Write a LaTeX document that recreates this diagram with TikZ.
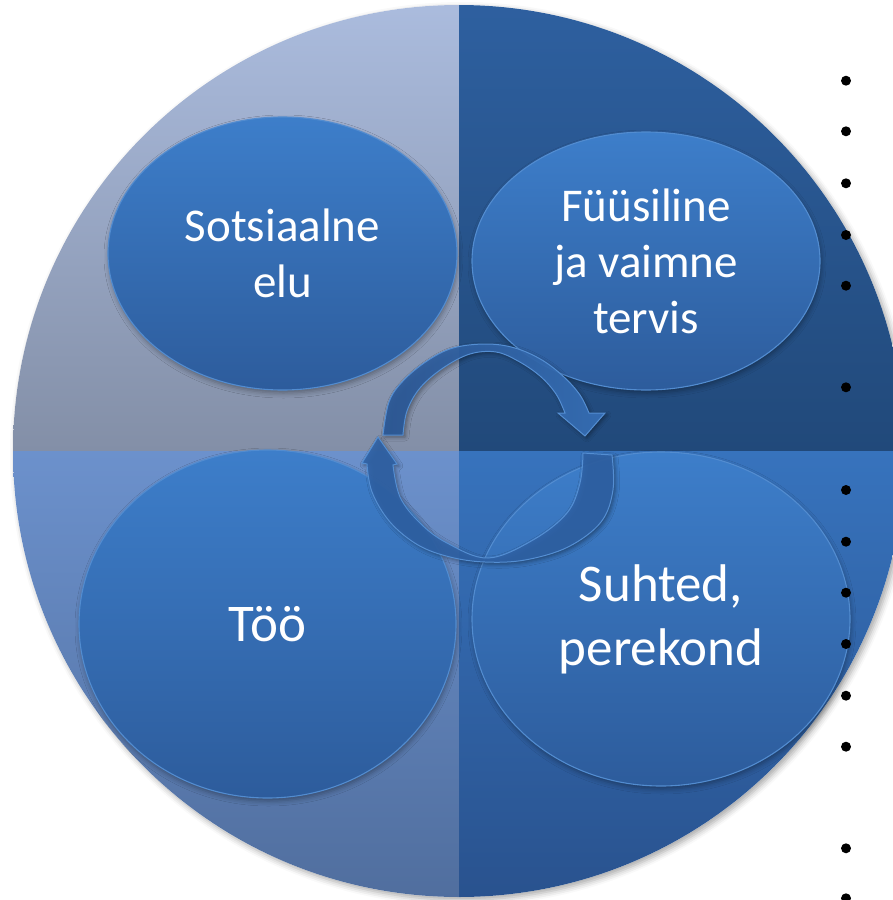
\documentclass[tikz,border=0pt]{standalone}
\usepackage{fontspec}
\setmainfont{Carlito}
\usetikzlibrary{shapes.geometric,shadows.blur}
\definecolor{tlTop}{RGB}{171,188,222}
\definecolor{tlBot}{RGB}{131,143,167}
\definecolor{trTop}{RGB}{46,96,160}
\definecolor{trBot}{RGB}{33,73,122}
\definecolor{blTop}{RGB}{108,145,204}
\definecolor{blBot}{RGB}{80,110,158}
\definecolor{brTop}{RGB}{55,115,189}
\definecolor{brBot}{RGB}{41,82,142}
\definecolor{bubTop}{RGB}{61,126,202}
\definecolor{bubBot}{RGB}{45,92,156}
\definecolor{bubLine}{RGB}{82,140,208}
\definecolor{arrFill}{RGB}{47,98,166}
\definecolor{arrFillL}{RGB}{43,88,150}
\definecolor{arrFillR}{RGB}{55,112,184}
\definecolor{arrLine}{RGB}{84,142,210}
\begin{document}
\begin{tikzpicture}[x=1pt,y=-1pt,
  bubble/.style={ellipse, inner sep=0pt, draw=bubLine, line width=1.1pt,
    top color=bubTop, bottom color=bubBot, text=white, align=center,
    blur shadow={shadow xshift=1pt, shadow yshift=-3pt, shadow opacity=35, shadow blur radius=5pt}},
  smallfont/.style={font=\fontsize{47}{56}\selectfont},
  bigfont/.style={font=\fontsize{53}{64}\selectfont},
  cyclearrow/.style={draw=arrLine, line width=1pt, line join=miter,
    blur shadow={shadow xshift=2pt, shadow yshift=-2pt, shadow opacity=40, shadow blur radius=4pt}},
  bulletdot/.style={circle, fill=black, inner sep=0pt, minimum size=10pt}
]
\useasboundingbox (0,0) rectangle (893,900);
% outer circle with shadow
\fill[white, blur shadow={shadow xshift=3pt, shadow yshift=-3pt, shadow opacity=35, shadow blur radius=6pt}] (459,451) circle[radius=446];
\begin{scope}
  \clip (459,451) circle[radius=446];
  \shade[top color=tlTop, bottom color=tlBot] (0,0) rectangle (459,451);
  \shade[top color=trTop, bottom color=trBot] (459,0) rectangle (910,451);
  \shade[top color=blTop, bottom color=blBot] (0,451) rectangle (459,900);
  \shade[top color=brTop, bottom color=brBot] (459,451) rectangle (910,900);
\end{scope}
% ellipses
\node[bubble, smallfont, minimum width=349pt, minimum height=273pt] (soc) at (282.5,253.5) {Sotsiaalne\\elu};
\node[bubble, smallfont, minimum width=348pt, minimum height=258pt] (fys) at (646,261) {Füüsiline\\ja vaimne\\tervis};
\node[bubble, bigfont, minimum width=377pt, minimum height=348pt] (too) at (267.5,624) {Töö};
\node[bubble, bigfont, minimum width=378pt, minimum height=334pt] (suh) at (661,619) {Suhted,\\perekond};
% circular arrows
\path[cyclearrow, left color=arrFillL, right color=arrFillR, fill opacity=0.93]
  plot[smooth, tension=0.6] coordinates {(383,435) (389,402) (403,381) (427,361) (453,348) (486,344) (515,348) (542,360) (564,377) (580,395) (589,413)}
  -- (605,413) -- (585,436) -- (558,413) -- (565,413)
  -- plot[smooth, tension=0.6] coordinates {(565,413) (556,394) (540,376) (518,361) (496,352) (470,354) (443,368) (420,388) (407,411) (403,435)}
  -- cycle;
\path[cyclearrow, fill=arrFill, fill opacity=0.9]
  plot[smooth, tension=0.6] coordinates {(612,455) (613,490) (601,522) (568,547) (525,560) (485,562) (450,557) (418,545) (390,522) (372,492) (367,464)}
  -- (362,463) -- (378,437) -- (397,464) -- (393,465)
  -- plot[smooth, tension=0.6] coordinates {(393,465) (400,497) (420,523) (447,543) (488,558) (533,540) (567,513) (580,483) (583,453)}
  -- cycle;
% bullets
\foreach \yy [count=\i] in {80.7,131.3,183.3,235,285.7,387.3,490,541.7,592.7,644,695.7,746.7,848.3,898.3}
  \node[bulletdot] (b\i) at (846,\yy) {};
\end{tikzpicture}
\end{document}
